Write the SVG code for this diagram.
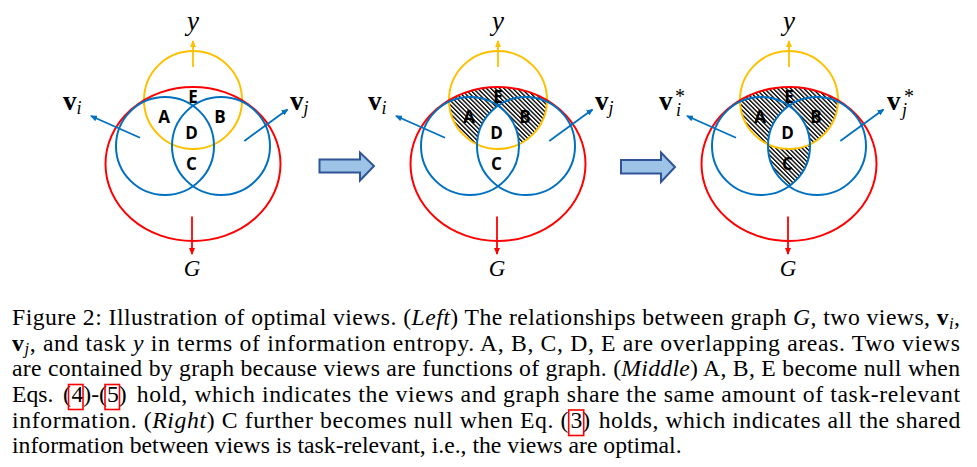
<svg xmlns="http://www.w3.org/2000/svg" width="977" height="467" viewBox="0 0 977 467">
<style>
.yc{fill:none;stroke:#FFC000;stroke-width:2}
.rc{fill:none;stroke:#FF0000;stroke-width:2}
.bc{fill:none;stroke:#0070C0;stroke-width:2}
.ya{stroke:#FFC000;stroke-width:1.8;fill:none}
.ra{stroke:#FF0000;stroke-width:1.8;fill:none}
.ba{stroke:#0070C0;stroke-width:1.8;fill:none}
.lab{font-family:"Open Sans","Liberation Sans",sans-serif;font-weight:bold;font-size:17px;fill:#000;text-anchor:middle}
.math{font-family:"Liberation Serif","DejaVu Serif",serif;fill:#000}
.cap{font-family:"Liberation Serif","Times New Roman",serif;font-size:23.7px;fill:#000}
.it{font-style:italic}
.bd{font-weight:bold}
.blk{fill:#9DC3E6;stroke:#2F5597;stroke-width:2}
.refbox{fill:none;stroke:#FF0000;stroke-width:1.6}
</style>
<defs>
<marker id="mY" markerUnits="userSpaceOnUse" markerWidth="7" markerHeight="6" refX="6" refY="3" orient="auto"><path d="M0,0 L7,3 L0,6 Z" fill="#FFC000"/></marker>
<marker id="mR" markerUnits="userSpaceOnUse" markerWidth="7" markerHeight="6" refX="6" refY="3" orient="auto"><path d="M0,0 L7,3 L0,6 Z" fill="#FF0000"/></marker>
<marker id="mB" markerUnits="userSpaceOnUse" markerWidth="7" markerHeight="6" refX="6" refY="3" orient="auto"><path d="M0,0 L7,3 L0,6 Z" fill="#0070C0"/></marker>
<pattern id="hatch" patternUnits="userSpaceOnUse" width="3.1" height="3.1" patternTransform="rotate(-45)"><rect width="3.1" height="3.1" fill="#fff"/><rect width="1.35" height="3.1" fill="#000"/></pattern>
<clipPath id="cY" clipPathUnits="userSpaceOnUse"><circle cx="193" cy="100" r="49"/></clipPath>
<clipPath id="cR" clipPathUnits="userSpaceOnUse"><ellipse cx="193" cy="164" rx="87.5" ry="77"/></clipPath>
<clipPath id="cBL" clipPathUnits="userSpaceOnUse"><circle cx="165" cy="146" r="49"/></clipPath>
<clipPath id="cBR" clipPathUnits="userSpaceOnUse"><circle cx="221" cy="146" r="49"/></clipPath>
<mask id="mNoLens" maskUnits="userSpaceOnUse" x="0" y="0" width="400" height="300"><rect x="0" y="0" width="400" height="300" fill="#fff"/><circle cx="165" cy="146" r="49" fill="#000" clip-path="url(#cBR)"/></mask>
<mask id="mNoY" maskUnits="userSpaceOnUse" x="0" y="0" width="400" height="300"><rect x="0" y="0" width="400" height="300" fill="#fff"/><circle cx="193" cy="100" r="49" fill="#000"/></mask>
</defs>

<!-- LEFT -->
<g id="diagram-left">
  <g id="left-sets">
    <circle id="left-y" class="yc" cx="193" cy="100" r="49"/>
    <ellipse id="left-G" class="rc" cx="193" cy="164" rx="87.5" ry="77"/>
    <circle id="left-vi" class="bc" cx="165" cy="146" r="49"/>
    <circle id="left-vj" class="bc" cx="221" cy="146" r="49"/>
  </g>
  <g id="left-areas">
    <text class="lab" x="193" y="103">E</text>
    <text class="lab" x="164" y="123">A</text>
    <text class="lab" x="220" y="123">B</text>
    <text class="lab" x="191.5" y="138.5">D</text>
    <text class="lab" x="191.5" y="169.5">C</text>
  </g>
  <g id="left-connectors">
    <line class="ya" x1="193" y1="67" x2="193" y2="41" marker-end="url(#mY)"/>
    <line class="ra" x1="192" y1="216.5" x2="192" y2="254" marker-end="url(#mR)"/>
    <line class="ba" x1="140" y1="137.7" x2="91" y2="116" marker-end="url(#mB)"/>
    <line class="ba" x1="244.3" y1="141" x2="287.5" y2="109.5" marker-end="url(#mB)"/>
  </g>
  <g id="left-labels">
    <text class="math it" x="193" y="30" font-size="27" text-anchor="middle">y</text>
    <text class="math it" x="192" y="276" font-size="23" text-anchor="middle">G</text>
    <text class="math" x="63" y="110"><tspan class="bd" font-size="27">v</tspan><tspan class="it" font-size="18" dy="4">i</tspan></text>
    <text class="math" x="290" y="110"><tspan class="bd" font-size="27">v</tspan><tspan class="it" font-size="18" dy="4">j</tspan></text>
  </g>
</g>

<!-- MIDDLE -->
<g id="diagram-middle" transform="translate(305,0)">
  <g id="middle-hatch" clip-path="url(#cR)"><g clip-path="url(#cY)"><rect x="100" y="40" width="190" height="130" fill="url(#hatch)" mask="url(#mNoLens)"/></g></g>
  <g id="middle-sets">
    <circle id="middle-y" class="yc" cx="193" cy="100" r="49"/>
    <ellipse id="middle-G" class="rc" cx="193" cy="164" rx="87.5" ry="77"/>
    <circle id="middle-vi" class="bc" cx="165" cy="146" r="49"/>
    <circle id="middle-vj" class="bc" cx="221" cy="146" r="49"/>
  </g>
  <g id="middle-areas">
    <text class="lab" x="193" y="103">E</text>
    <text class="lab" x="164" y="123">A</text>
    <text class="lab" x="220" y="123">B</text>
    <text class="lab" x="191.5" y="138.5">D</text>
    <text class="lab" x="191.5" y="169.5">C</text>
  </g>
  <g id="middle-connectors">
    <line class="ya" x1="193" y1="67" x2="193" y2="41" marker-end="url(#mY)"/>
    <line class="ra" x1="192" y1="216.5" x2="192" y2="254" marker-end="url(#mR)"/>
    <line class="ba" x1="140" y1="137.7" x2="91" y2="116" marker-end="url(#mB)"/>
    <line class="ba" x1="244.3" y1="141" x2="287.5" y2="109.5" marker-end="url(#mB)"/>
  </g>
  <g id="middle-labels">
    <text class="math it" x="193" y="30" font-size="27" text-anchor="middle">y</text>
    <text class="math it" x="192" y="276" font-size="23" text-anchor="middle">G</text>
    <text class="math" x="63" y="110"><tspan class="bd" font-size="27">v</tspan><tspan class="it" font-size="18" dy="4">i</tspan></text>
    <text class="math" x="290" y="110"><tspan class="bd" font-size="27">v</tspan><tspan class="it" font-size="18" dy="4">j</tspan></text>
  </g>
</g>

<!-- RIGHT -->
<g id="diagram-right" transform="translate(596,0)">
  <g id="right-hatch">
    <g clip-path="url(#cR)"><g clip-path="url(#cY)"><rect x="100" y="40" width="190" height="130" fill="url(#hatch)" mask="url(#mNoLens)"/></g></g>
    <g clip-path="url(#cBL)"><rect x="100" y="90" width="190" height="110" fill="url(#hatch)" clip-path="url(#cBR)" mask="url(#mNoY)"/></g>
  </g>
  <g id="right-sets">
    <circle id="right-y" class="yc" cx="193" cy="100" r="49"/>
    <ellipse id="right-G" class="rc" cx="193" cy="164" rx="87.5" ry="77"/>
    <circle id="right-vi" class="bc" cx="165" cy="146" r="49"/>
    <circle id="right-vj" class="bc" cx="221" cy="146" r="49"/>
  </g>
  <g id="right-areas">
    <text class="lab" x="193" y="103">E</text>
    <text class="lab" x="164" y="123">A</text>
    <text class="lab" x="220" y="123">B</text>
    <text class="lab" x="191.5" y="138.5">D</text>
    <text class="lab" x="191.5" y="169.5">C</text>
  </g>
  <g id="right-connectors">
    <line class="ya" x1="193" y1="67" x2="193" y2="41" marker-end="url(#mY)"/>
    <line class="ra" x1="192" y1="216.5" x2="192" y2="254" marker-end="url(#mR)"/>
    <line class="ba" x1="140" y1="137.7" x2="91" y2="116" marker-end="url(#mB)"/>
    <line class="ba" x1="244.3" y1="141" x2="287.5" y2="109.5" marker-end="url(#mB)"/>
  </g>
  <g id="right-labels">
    <text class="math it" x="193" y="30" font-size="27" text-anchor="middle">y</text>
    <text class="math it" x="192" y="276" font-size="23" text-anchor="middle">G</text>
    <text class="math"><tspan class="bd" font-size="27" x="63" y="110">v</tspan><tspan font-size="20" x="79" y="103">*</tspan><tspan class="it" font-size="18" x="80" y="116">i</tspan></text>
    <text class="math"><tspan class="bd" font-size="27" x="291" y="110">v</tspan><tspan font-size="20" x="308" y="103">*</tspan><tspan class="it" font-size="18" x="306" y="116">j</tspan></text>
  </g>
</g>

<!-- block arrows -->
<g id="transition-arrows">
  <path class="blk" d="M319.5,159.5 H360 V152.5 L374,166 L360,180.5 V172.5 H319.5 Z"/>
  <path class="blk" d="M621,160 H661 V152.5 L675,167 L661,182 V173.5 H621 Z"/>
</g>

<!-- caption -->
<g id="caption" class="cap">
  <text x="12" y="325" textLength="948" lengthAdjust="spacing">Figure 2: Illustration of optimal views. (<tspan class="it">Left</tspan>) The relationships between graph <tspan class="it">G</tspan>, two views, <tspan class="bd">v</tspan><tspan class="it" font-size="16.5" dy="3.5">i</tspan><tspan dy="-3.5">,</tspan></text>
  <text x="12" y="350.7" textLength="948" lengthAdjust="spacing"><tspan class="bd">v</tspan><tspan class="it" font-size="16.5" dy="3.5">j</tspan><tspan dy="-3.5">, and task </tspan><tspan class="it">y</tspan> in terms of information entropy. A, B, C, D, E are overlapping areas. Two views</text>
  <text x="12" y="376.3" textLength="948" lengthAdjust="spacing">are contained by graph because views are functions of graph. (<tspan class="it">Middle</tspan>) A, B, E become null when</text>
  <text y="402"><tspan x="12">Eqs.</tspan><tspan x="63">(</tspan><tspan x="71.5">4)-(</tspan><tspan x="107">5)</tspan></text>
  <text x="136.7" y="402" textLength="823.3" lengthAdjust="spacing">hold, which indicates the views and graph share the same amount of task-relevant</text>
  <text x="12" y="427.7" textLength="556.5" lengthAdjust="spacing">information. (<tspan class="it">Right</tspan>) C further becomes null when Eq. (</text>
  <text y="427.7"><tspan x="570.5">3)</tspan></text>
  <text x="598.7" y="427.7" textLength="361.6" lengthAdjust="spacing">holds, which indicates all the shared</text>
  <text x="12" y="453.3">information between views is task-relevant, i.e., the views are optimal.</text>
  <rect class="refbox" x="68.5" y="384.5" width="14.5" height="25"/>
  <rect class="refbox" x="105" y="384.5" width="14.5" height="25"/>
  <rect class="refbox" x="568.7" y="410" width="15" height="25.5"/>
</g>
</svg>
